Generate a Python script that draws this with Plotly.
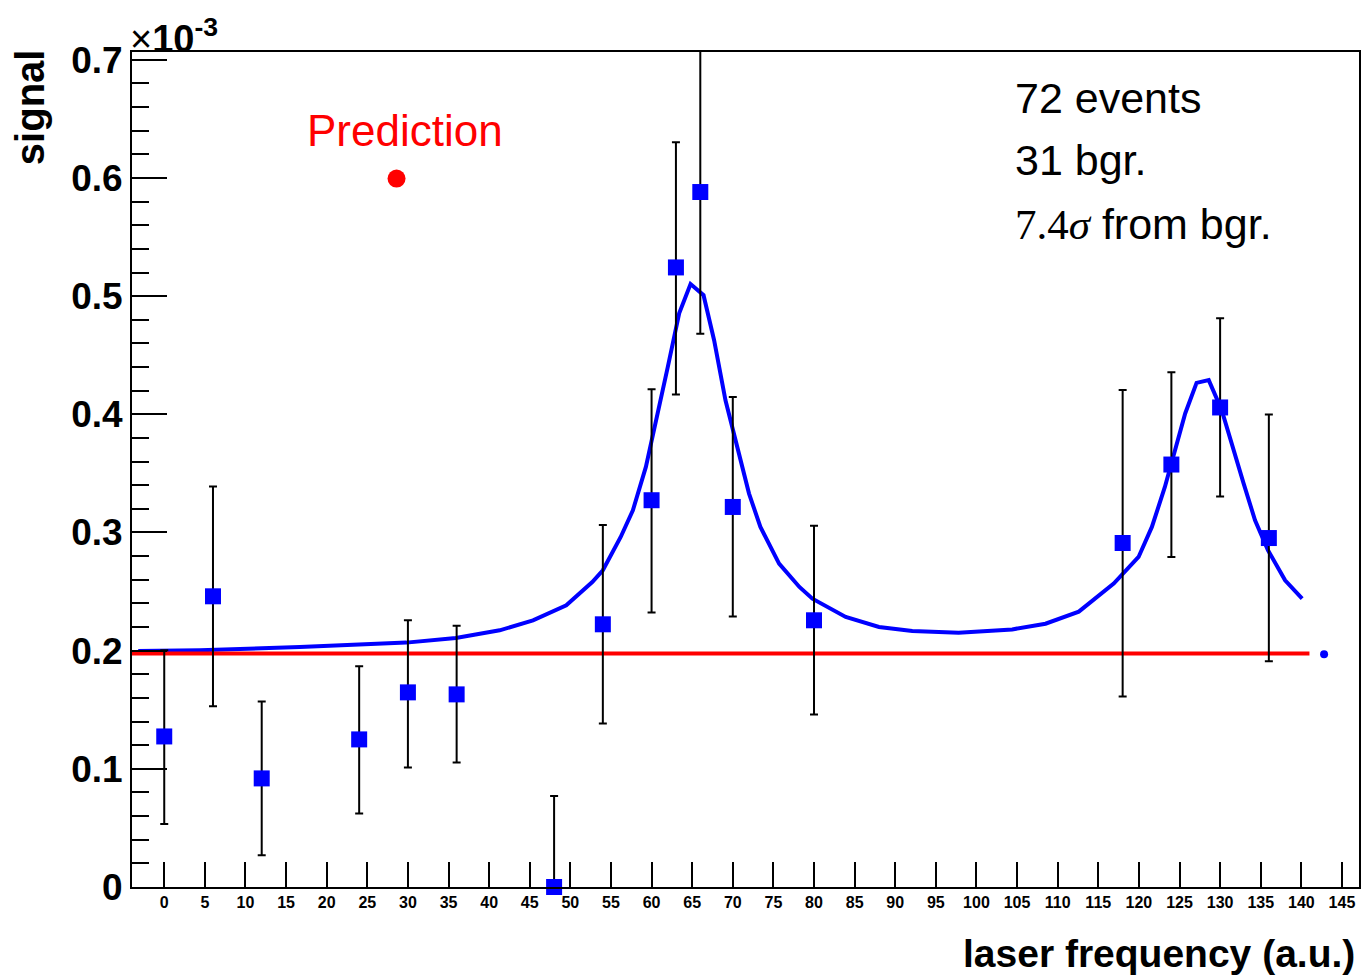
import plotly.graph_objects as go

# data points (signal in units of 1e-3)
freq = [0, 6, 12, 24, 30, 36, 48, 54, 60, 63, 66, 70, 80, 118, 124, 130, 136]
signal = [0.1274, 0.2460, 0.0919, 0.1249, 0.1647, 0.1630, 0.0, 0.2223, 0.3273,
          0.5243, 0.5881, 0.3216, 0.2257, 0.2911, 0.3575, 0.4058, 0.2953]
err_plus = [0.073, 0.093, 0.065, 0.062, 0.061, 0.058, 0.077, 0.084, 0.094,
            0.106, 0.130, 0.093, 0.080, 0.1295, 0.078, 0.0754, 0.1045]
err_minus = [0.074, 0.093, 0.065, 0.0627, 0.0635, 0.0576, 0.0, 0.084, 0.095,
             0.1075, 0.120, 0.0926, 0.0797, 0.1298, 0.0782, 0.0754, 0.1043]

# fitted curve
curve_x = [-3.2, 4.4, 16.7, 22.8, 29.8, 35.9, 41.3, 45.4, 49.5, 52.7, 54.0, 56.2,
           57.7, 59.3, 60.5, 62.0, 63.4, 64.8, 66.4, 67.7, 69.1, 70.6, 72.0, 73.4,
           75.7, 78.2, 79.8, 83.9, 88.0, 92.1, 97.8, 104.4, 108.5, 112.6, 116.9,
           119.96, 121.6, 123.2, 124.5, 125.7, 127.1, 128.6, 130.2, 131.4, 132.9,
           134.3, 135.9, 138.0, 140.1]
curve_y = [0.1997, 0.2003, 0.2030, 0.2045, 0.2068, 0.2107, 0.2172, 0.2257, 0.2384,
           0.2581, 0.2680, 0.2962, 0.3188, 0.3555, 0.3922, 0.4401, 0.4854, 0.5102,
           0.5008, 0.4627, 0.4119, 0.3696, 0.3329, 0.3047, 0.2737, 0.2539, 0.2440,
           0.2285, 0.2200, 0.2166, 0.2152, 0.2180, 0.2228, 0.2330, 0.2567, 0.2793,
           0.3047, 0.3385, 0.3724, 0.4007, 0.4266, 0.4289, 0.4035, 0.3753, 0.3414,
           0.3103, 0.2849, 0.2595, 0.2440]

# background level line
bgr_x = [-4.0, 141.0]
bgr_y = [0.1975, 0.1975]

# prediction marker and small marker
pred_x = [28.6]
pred_y = [0.5995]
dot_x = [142.8]
dot_y = [0.197]

x_ticks = list(range(0, 150, 5))
y_ticks = [0, 0.1, 0.2, 0.3, 0.4, 0.5, 0.6, 0.7]

fig = go.Figure()

fig.add_trace(go.Scatter(x=curve_x, y=curve_y, mode="lines",
                         line=dict(color="#0000ff", width=4), showlegend=False))
fig.add_trace(go.Scatter(x=bgr_x, y=bgr_y, mode="lines",
                         line=dict(color="#ff0000", width=4), showlegend=False))
# error bars (clipped to the frame)
fig.add_trace(go.Scatter(
    x=freq, y=signal, mode="markers",
    marker=dict(symbol="square", size=16, color="rgba(0,0,0,0)"),
    error_y=dict(type="data", symmetric=False, array=err_plus, arrayminus=err_minus,
                 color="black", thickness=2, width=4),
    showlegend=False, cliponaxis=True))
# markers (not clipped)
fig.add_trace(go.Scatter(
    x=freq, y=signal, mode="markers",
    marker=dict(symbol="square", size=16, color="#0000ff"),
    showlegend=False, cliponaxis=False))
fig.add_trace(go.Scatter(x=pred_x, y=pred_y, mode="markers",
                         marker=dict(symbol="circle", size=18, color="#ff0000"),
                         showlegend=False))
fig.add_trace(go.Scatter(x=dot_x, y=dot_y, mode="markers",
                         marker=dict(symbol="circle", size=8, color="#0000ff"),
                         showlegend=False))

fig.update_layout(
    width=1363, height=976,
    margin=dict(l=132, r=2, t=52, b=89),
    paper_bgcolor="white", plot_bgcolor="white",
    font=dict(family="Liberation Sans, Arial", color="black"),
    xaxis=dict(range=[-3.97, 147.1], tickvals=x_ticks,
               ticktext=[f"<b>{v}</b>" for v in x_ticks],
               tickfont=dict(size=16, family="Liberation Sans"),
               ticks="inside", ticklen=25, tickwidth=2, tickcolor="black",
               showline=True, linecolor="black", linewidth=2, mirror=True,
               showgrid=False, zeroline=False),
    yaxis=dict(range=[0, 0.7066], tickvals=y_ticks,
               ticktext=[f"<b>{v:g}</b>" for v in y_ticks],
               tickfont=dict(size=37, family="Liberation Sans"),
               ticks="inside", ticklen=35, tickwidth=2, tickcolor="black",
               minor=dict(dtick=0.02, tick0=0, ticks="inside", ticklen=17,
                          tickwidth=2, tickcolor="black", showgrid=False),
               showline=True, linecolor="black", linewidth=2, mirror=True,
               showgrid=False, zeroline=False),
)

# annotations given in figure pixel positions (x from left, y from top)
annotations = [
    dict(text="<b>signal</b>", px=30, py=107, textangle=-90,
         font=dict(size=40), xanchor="center", yanchor="middle"),
    dict(text="<b>laser frequency (a.u.)</b>", px=1359, py=953,
         font=dict(size=39), xanchor="right", yanchor="middle"),
    dict(text="×<b>10<sup>-3</sup></b>", px=128, py=36,
         font=dict(size=38), xanchor="left", yanchor="middle"),
    dict(text="Prediction", px=405, py=130, font=dict(size=44, color="#ff0000"),
         xanchor="center", yanchor="middle"),
    dict(text="72 events", px=1014, py=98, font=dict(size=43),
         xanchor="left", yanchor="middle"),
    dict(text="31 bgr.", px=1014, py=160, font=dict(size=43),
         xanchor="left", yanchor="middle"),
    dict(text="<span style=\"font-family:'Liberation Serif'\">7.4<i>σ</i></span> from bgr.",
         px=1014, py=224, font=dict(size=43), xanchor="left", yanchor="middle"),
]
plot_w = 1363 - 132 - 2
plot_h = 976 - 52 - 89
for a in annotations:
    px = a.pop("px")
    py = a.pop("py")
    a["x"] = (px - 132) / plot_w
    a["y"] = (976 - 89 - py) / plot_h
    a["xref"] = "paper"
    a["yref"] = "paper"
    a["showarrow"] = False
    fig.add_annotation(**a)

fig.write_html("out.html")
